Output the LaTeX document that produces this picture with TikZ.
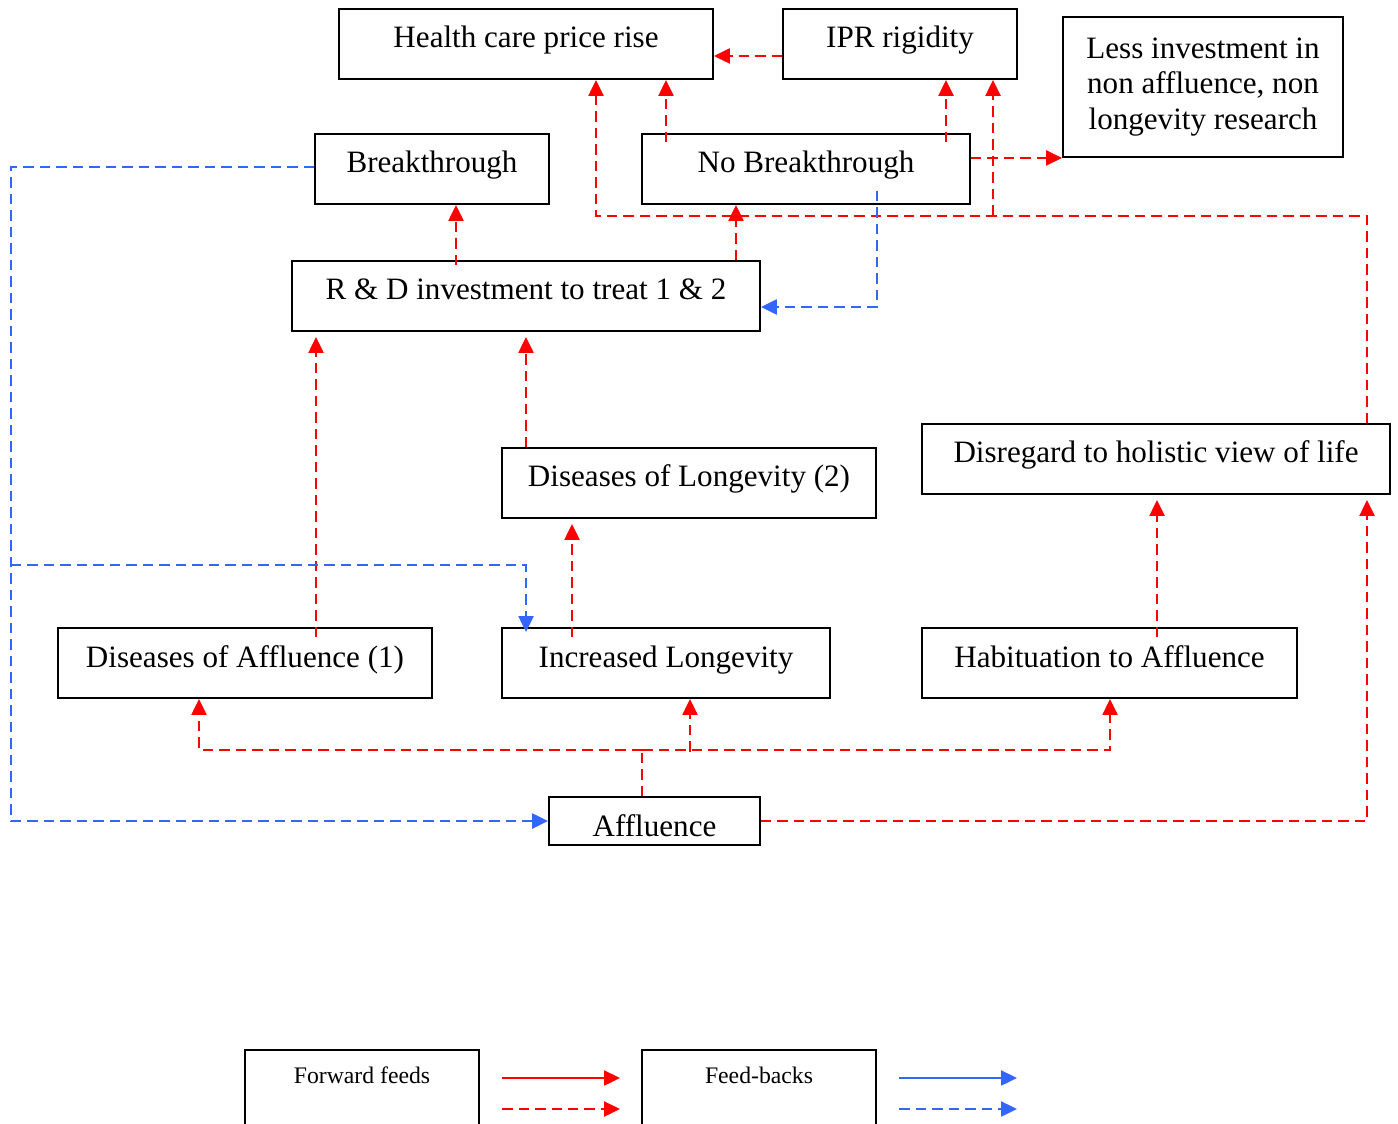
\documentclass[tikz,border=0pt]{standalone}
\usepackage{fontspec}
\setmainfont{Liberation Serif}
\usetikzlibrary{arrows.meta,calc}
\definecolor{fwdred}{RGB}{255,0,0}
\definecolor{fbblue}{RGB}{51,102,255}
\begin{document}
\begin{tikzpicture}[x=0.02cm,y=-0.02cm,
  boxbase/.style={draw=black, line width=1.1pt, rectangle, inner sep=0pt,
    minimum height=1.4cm, font=\fontsize{17.7}{20.4}\selectfont},
  box/.style={boxbase, text height=0.38cm, text depth=0.22cm},
  arrowend/.style={-{Triangle[length=0.32cm,width=0.3cm]}},
  fwline/.style={draw=fwdred, line width=1.35pt, dash pattern=on 0.21cm off 0.12cm},
  fw/.style={fwline, arrowend},
  fbline/.style={draw=fbblue, line width=1.35pt, dash pattern=on 0.21cm off 0.12cm},
  fb/.style={fbline, arrowend},
  legbox/.style={draw=black, line width=1.1pt, inner sep=0pt, minimum width=4.68cm,
    minimum height=2cm, font=\fontsize{13.5}{16}\selectfont,
    text height=0.1cm, text depth=0.78cm},
]
\clip (0,0) rectangle (1398,1124);

% boxes
\node[box, minimum width=7.48cm] (health) at (526,44) {Health care price rise};
\node[box, minimum width=4.68cm] (ipr) at (900,44) {IPR rigidity};
\node[boxbase, minimum width=5.6cm, minimum height=2.8cm, align=center] (less) at (1203,87)
  {Less investment in\\non affluence, non\\longevity research};
\node[box, minimum width=4.68cm] (bt) at (432,169) {Breakthrough};
\node[box, minimum width=6.56cm] (nb) at (806,169) {No Breakthrough};
\node[box, minimum width=9.36cm] (rnd) at (526,296) {R \& D investment to treat 1 \& 2};
\node[box, minimum width=7.48cm] (dol) at (689,483) {Diseases of Longevity (2)};
\node[box, minimum width=9.36cm] (disr) at (1156,459) {Disregard to holistic view of life};
\node[box, minimum width=7.48cm] (doa) at (245,663) {Diseases of Affluence (1)};
\node[box, minimum width=6.56cm] (il) at (666,663) {Increased Longevity};
\node[box, minimum width=7.5cm] (hab) at (1109.5,663) {Habituation to Affluence};
\node[boxbase, minimum width=4.22cm, minimum height=0.96cm, text height=0.6cm, text depth=0cm]
  (affl) at (654.5,821) {Affluence};

% forward feeds
\draw[fw] ($(ipr.west)+(0,12)$) -- ($(health.east)+(0,12)$);
\draw[fw] ($(nb.north)+(-140,9)$) coordinate (nbh) -- (nbh |- health.south);
\draw[fw] ($(nb.north)+(140,9)$) coordinate (nbi) -- (nbi |- ipr.south);
\draw[fw] ($(nb.east |- less.south west)$) -- (less.south west);
\draw[fw] ($(disr.north)+(211,0)$) |- ($(health.south)+(70,136)$) -- ($(health.south)+(70,0)$);
\draw[fw] ($(ipr.south)+(93,136)$) -- ($(ipr.south)+(93,0)$);
\draw[fw] ($(rnd.north)+(-70,5)$) coordinate (rb) -- (rb |- bt.south);
\draw[fw] ($(rnd.north)+(210,0)$) coordinate (rn) -- (rn |- nb.south);
\draw[fw, shorten >=0.1cm] ($(doa.north)+(71,10)$) coordinate (dr) -- (dr |- rnd.south);
\draw[fw, shorten >=0.1cm] ($(dol.north)+(-163,0)$) coordinate (lr) -- (lr |- rnd.south);
\draw[fw, shorten >=0.1cm] ($(il.north)+(-94,10)$) coordinate (ild) -- (ild |- dol.south);
\draw[fw, shorten >=0.1cm] ($(hab.north)+(47.5,10)$) coordinate (hd) -- (hd |- disr.south);
\draw[fw, shorten >=0.1cm] (affl.east) -| ($(disr.south)+(211,0)$);

\coordinate (treeA) at ($(affl.north)+(-12.5,0)$);
\coordinate (treeB) at ($(affl.north)+(-12.5,-46)$);
\draw[fwline] (treeA) -- (treeB);
\draw[fw] (treeB) -| ($(doa.south)+(-46,0)$);
\draw[fw] (treeB) -| ($(hab.south)+(0.5,0)$);
\draw[fw] ($(il.south)+(24,53)$) -- ($(il.south)+(24,0)$);

% feed-backs
\coordinate (fbjoin) at (11,565);
\draw[fb] ($(bt.west)+(0,-2)$) -| (fbjoin) |- (affl.west);
\draw[fb, shorten >=-0.1cm] (fbjoin) -| ($(il.north)+(-140,0)$);
\draw[fb] ($(nb.south)+(71,-14)$) |- ($(rnd.east)+(0,11)$);

% key
\node[legbox] (fwdkey) at (362,1100) {Forward feeds};
\node[legbox] (fbkey) at (759,1100) {Feed-backs};
\coordinate (kr1) at (502,1078); \coordinate (kr2) at (620,1078);
\coordinate (kr3) at (502,1109); \coordinate (kr4) at (620,1109);
\coordinate (kb1) at (899,1078); \coordinate (kb2) at (1017,1078);
\coordinate (kb3) at (899,1109); \coordinate (kb4) at (1017,1109);
\draw[draw=fwdred, line width=1.35pt, arrowend] (kr1) -- (kr2);
\draw[fw] (kr3) -- (kr4);
\draw[draw=fbblue, line width=1.35pt, arrowend] (kb1) -- (kb2);
\draw[fb] (kb3) -- (kb4);
\end{tikzpicture}
\end{document}
